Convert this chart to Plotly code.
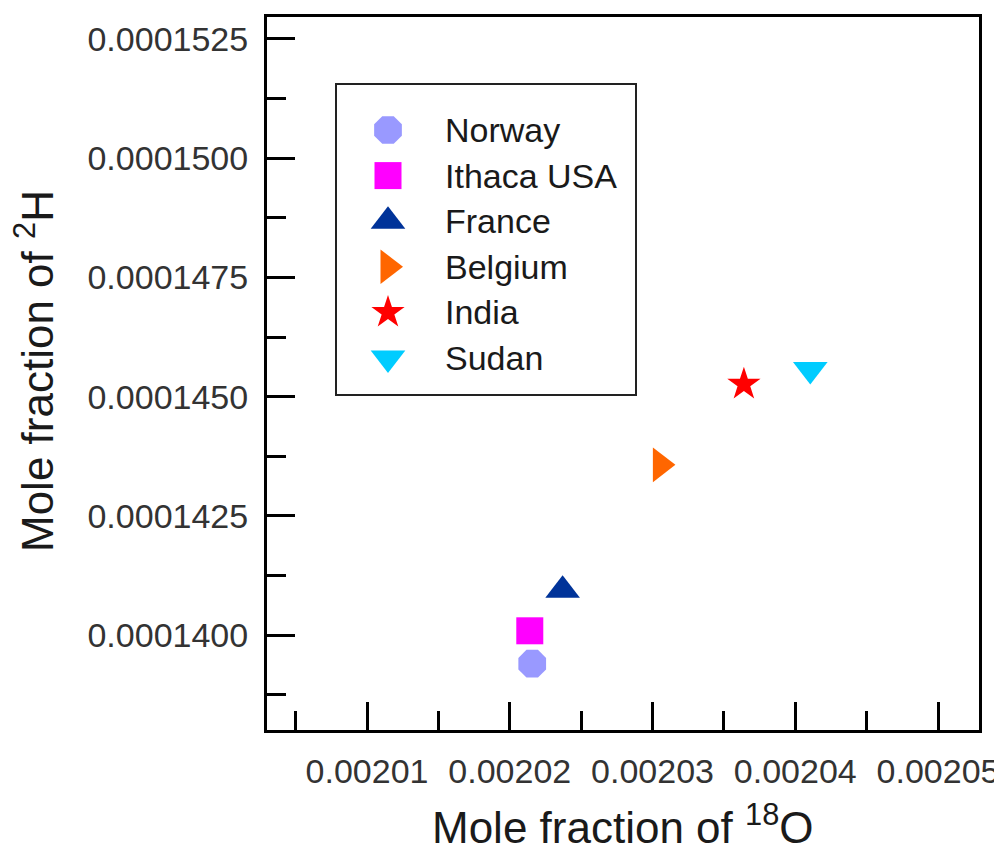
import plotly.graph_objects as go

# ---- data ----
countries = ["Norway", "Ithaca USA", "France", "Belgium", "India", "Sudan"]
o18 = [0.00202157, 0.0020214, 0.0020237, 0.00203055, 0.0020364, 0.00204105]
h2 = [0.0001394, 0.00014009, 0.00014094, 0.00014357, 0.00014526, 0.00014557]
symbols = ["octagon", "square", "triangle-up", "triangle-right", "star", "triangle-down"]
colors = ["#9999FF", "#FF00FF", "#003399", "#FF6600", "#FF0000", "#00CCFF"]
sizes = [30, 27, 30, 30, 25, 30]

x_tickvals = [0.00201, 0.00202, 0.00203, 0.00204, 0.00205]
y_tickvals = [0.00014, 0.0001425, 0.000145, 0.0001475, 0.00015, 0.0001525]
x_title = "Mole fraction of <sup>18</sup>O"
y_title = "Mole fraction of <sup>2</sup>H"

FONT = "Liberation Sans, Arial, sans-serif"
# figure is drawn inside the page body (8px default body margin)
W, H = 994, 844
L, R, T, B = 259, 23, 9, 122
pw, ph = W - L - R, H - T - B
OFF = 8  # page offset of the figure


def px_to_paper_x(px):
    return (px - OFF - L) / pw


def px_to_paper_y(py):
    return (H - B - (py - OFF)) / ph


fig = go.Figure()
for i, c in enumerate(countries):
    fig.add_trace(go.Scatter(
        x=[o18[i]], y=[h2[i]], mode="markers", name=c,
        marker=dict(symbol=symbols[i], color=colors[i], size=sizes[i], line=dict(width=0)),
        showlegend=False,
    ))

# ---- legend drawn by hand (markers on hidden overlay axes so sizes match the plot) ----
leg_px_x = 388
leg_text_px_x = 443
leg_row0_px, leg_row_gap = 130, 45.6
for i, c in enumerate(countries):
    py = leg_row0_px + i * leg_row_gap
    fig.add_trace(go.Scatter(
        x=[px_to_paper_x(leg_px_x)], y=[px_to_paper_y(py)], xaxis="x2", yaxis="y2",
        mode="markers", showlegend=False, hoverinfo="skip",
        marker=dict(symbol=symbols[i], color=colors[i], size=sizes[i], line=dict(width=0)),
    ))
    fig.add_annotation(
        x=px_to_paper_x(leg_text_px_x), y=px_to_paper_y(py), xref="paper", yref="paper",
        text=c, showarrow=False, xanchor="left", yanchor="middle",
        font=dict(family=FONT, size=34, color="#1a1a1a"),
    )
fig.add_shape(type="rect", xref="paper", yref="paper",
              x0=px_to_paper_x(336), x1=px_to_paper_x(636),
              y0=px_to_paper_y(395), y1=px_to_paper_y(84),
              line=dict(color="#222222", width=2), fillcolor="rgba(0,0,0,0)")

# ---- axis titles (placed as annotations so they can sit close to the page edge) ----
fig.add_annotation(
    x=px_to_paper_x(623), y=px_to_paper_y(824), xref="paper", yref="paper",
    text=x_title, showarrow=False, xanchor="center", yanchor="middle",
    font=dict(family=FONT, size=44, color="#1a1a1a"),
)
fig.add_annotation(
    x=px_to_paper_x(34), y=px_to_paper_y(371), xref="paper", yref="paper",
    text=y_title, showarrow=False, xanchor="center", yanchor="middle", textangle=-90,
    font=dict(family=FONT, size=44, color="#1a1a1a"),
)

axis_common = dict(
    showline=True, linecolor="black", linewidth=3, mirror=True,
    ticks="inside", ticklen=28, tickwidth=3, tickcolor="black",
    showgrid=False, zeroline=False, automargin=False,
    tickfont=dict(family=FONT, size=34, color="#333333"),
)

fig.update_layout(
    width=W, height=H,
    margin=dict(l=L, r=R, t=T, b=B),
    paper_bgcolor="white", plot_bgcolor="white",
    font=dict(family=FONT),
    xaxis=dict(
        **axis_common,
        range=[0.00200299, 0.00205287],
        tickmode="array", tickvals=x_tickvals, tickformat=".5f",
        minor=dict(ticks="inside", ticklen=19, tickwidth=3, tickcolor="black", dtick=0.000005, tick0=0.00201),
        ticklabelstandoff=9,
    ),
    yaxis=dict(
        **axis_common,
        range=[0.00013801, 0.00015296],
        tickmode="array", tickvals=y_tickvals, tickformat=".7f",
        minor=dict(ticks="inside", ticklen=19, tickwidth=3, tickcolor="black", dtick=0.00000125, tick0=0.00014),
        ticklabelstandoff=9,
    ),
    xaxis2=dict(overlaying="x", range=[0, 1], visible=False),
    yaxis2=dict(overlaying="y", range=[0, 1], visible=False),
)

fig.write_html("out.html")
